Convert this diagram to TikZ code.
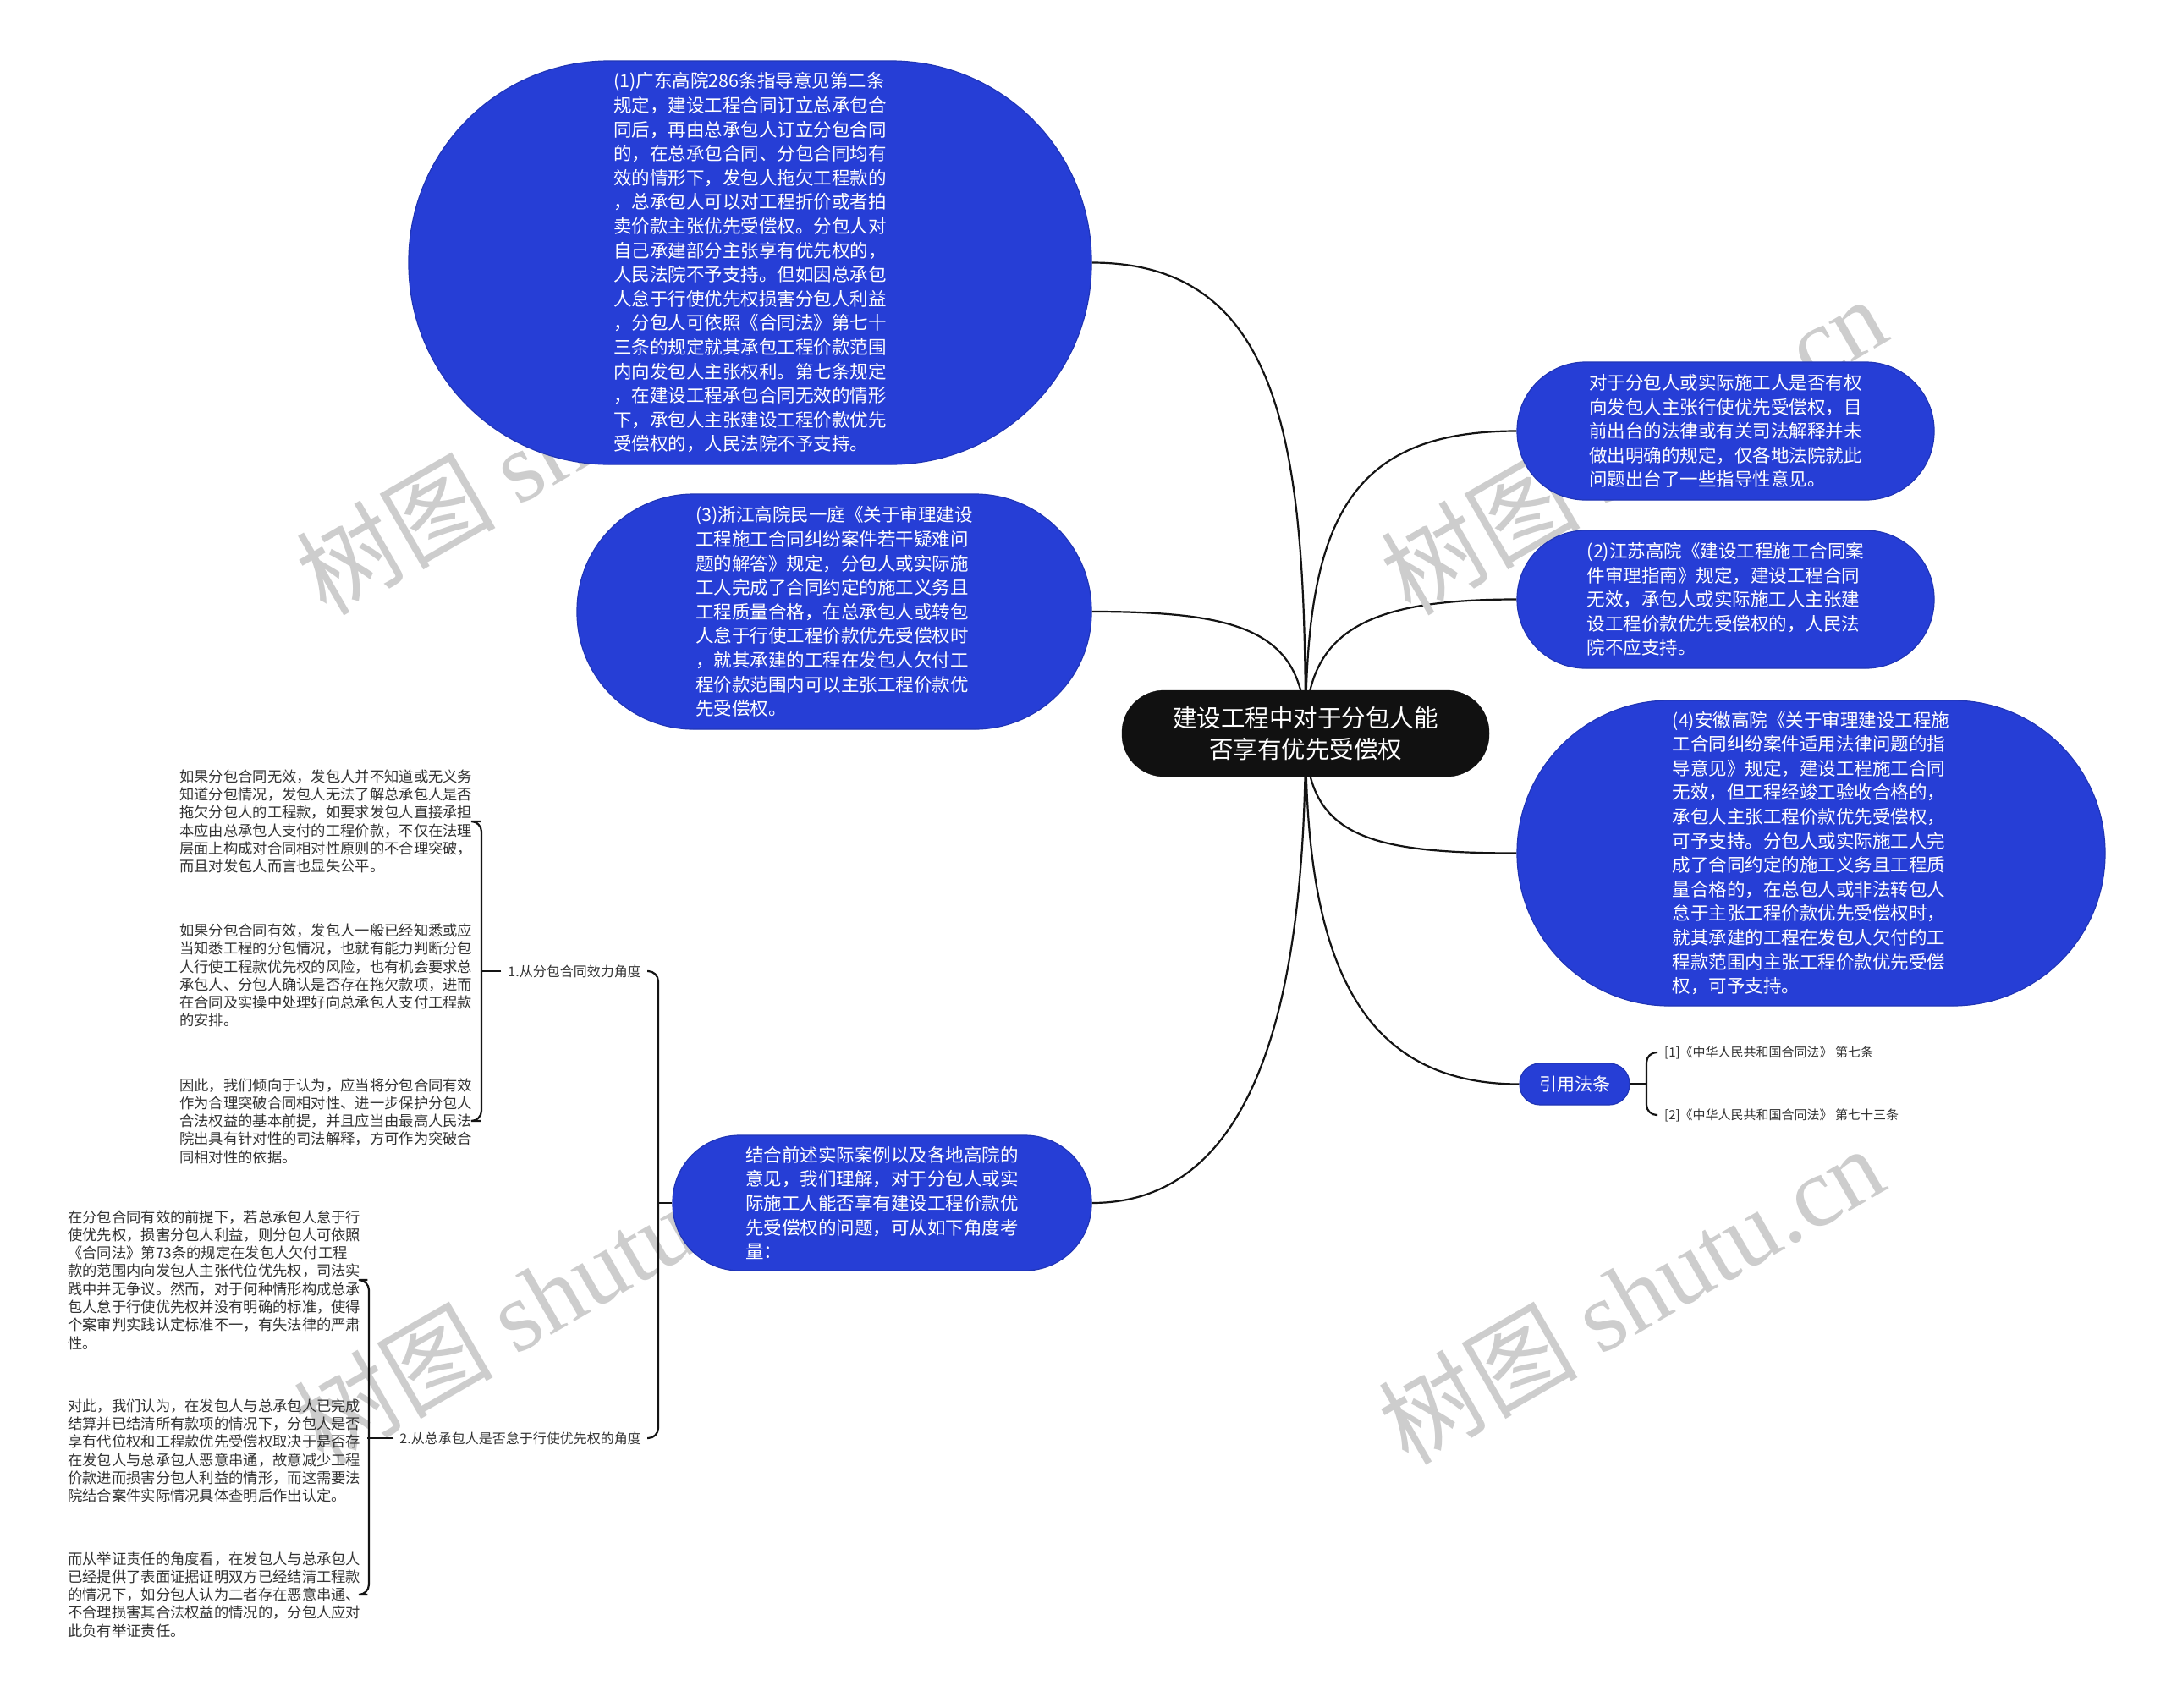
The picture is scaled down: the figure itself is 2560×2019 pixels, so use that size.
\documentclass[tikz,border=0pt]{standalone}
\usepackage{fontspec}
\newfontfamily\cjk{Noto Sans CJK SC}
\newfontfamily\wmserif{Liberation Serif}
\usetikzlibrary{calc}
\pgfdeclarelayer{paper}
\pgfdeclarelayer{links}
\pgfdeclarelayer{wml}
\pgfsetlayers{paper,links,wml,main}
\definecolor{nodeblue}{RGB}{38,62,214}
\definecolor{rootblack}{RGB}{17,17,17}
\definecolor{linkcol}{RGB}{20,20,20}
\definecolor{smalltext}{RGB}{51,51,51}
\definecolor{wmgray}{RGB}{205,205,205}
\tikzset{
  bubble/.style={fill=nodeblue, draw=nodeblue!85!black, line width=1.2pt, text=white,
    font=\cjk\fontsize{21.5}{28.6}\selectfont, align=left, inner sep=0pt},
  rootbox/.style={fill=rootblack, draw=rootblack, text=white,
    font=\cjk\fontsize{28.5}{37}\selectfont, align=center, inner sep=0pt,
    minimum width=434pt, minimum height=102pt, rounded corners=50pt},
  para/.style={font=\cjk\fontsize{17.3}{21.3}\selectfont, text=smalltext, align=left,
    inner sep=0pt, anchor=west},
  lbl/.style={font=\cjk\fontsize{16}{20}\selectfont, text=smalltext, inner sep=0pt},
  reflbl/.style={font=\cjk\fontsize{15}{19}\selectfont, text=smalltext, inner sep=0pt},
  conn/.style={draw=linkcol, line width=2.2pt},
  brk/.style={draw=linkcol, line width=2.2pt, rounded corners=12pt},
  wm/.style={text=wmgray, rotate=30, inner sep=0pt}
}
\begin{document}
\begin{tikzpicture}[x=1pt,y=-1pt]
\begin{pgfonlayer}{paper}
\fill[white] (0,0) rectangle (2560,2019);
\end{pgfonlayer}
\useasboundingbox (0,0) rectangle (2560,2019);

% root
\node[rootbox] (root) at (1543,867) {建设工程中对于分包人能\\否享有优先受偿权};

% main bubbles
\node[bubble, minimum width=807pt, minimum height=477pt, rounded corners=237pt] (n1) at (886.5,310.5)
{(1)广东高院286条指导意见第二条\\
规定，建设工程合同订立总承包合\\
同后，再由总承包人订立分包合同\\
的，在总承包合同、分包合同均有\\
效的情形下，发包人拖欠工程款的\\
，总承包人可以对工程折价或者拍\\
卖价款主张优先受偿权。分包人对\\
自己承建部分主张享有优先权的，\\
人民法院不予支持。但如因总承包\\
人怠于行使优先权损害分包人利益\\
，分包人可依照《合同法》第七十\\
三条的规定就其承包工程价款范围\\
内向发包人主张权利。第七条规定\\
，在建设工程承包合同无效的情形\\
下，承包人主张建设工程价款优先\\
受偿权的，人民法院不予支持。};

\node[bubble, minimum width=608pt, minimum height=278pt, rounded corners=138pt] (n3) at (986,723)
{(3)浙江高院民一庭《关于审理建设\\
工程施工合同纠纷案件若干疑难问\\
题的解答》规定，分包人或实际施\\
工人完成了合同约定的施工义务且\\
工程质量合格，在总承包人或转包\\
人怠于行使工程价款优先受偿权时\\
，就其承建的工程在发包人欠付工\\
程价款范围内可以主张工程价款优\\
先受偿权。};

\node[bubble, minimum width=493pt, minimum height=163pt, rounded corners=81pt] (r1) at (2039.5,509.5)
{对于分包人或实际施工人是否有权\\
向发包人主张行使优先受偿权，目\\
前出台的法律或有关司法解释并未\\
做出明确的规定，仅各地法院就此\\
问题出台了一些指导性意见。};

\node[bubble, minimum width=493pt, minimum height=163pt, rounded corners=81pt] (n2) at (2039.5,708.5)
{(2)江苏高院《建设工程施工合同案\\
件审理指南》规定，建设工程合同\\
无效，承包人或实际施工人主张建\\
设工程价款优先受偿权的，人民法\\
院不应支持。};

\node[bubble, minimum width=695pt, minimum height=361pt, rounded corners=180pt] (n4) at (2140.5,1008.5)
{(4)安徽高院《关于审理建设工程施\\
工合同纠纷案件适用法律问题的指\\
导意见》规定，建设工程施工合同\\
无效，但工程经竣工验收合格的，\\
承包人主张工程价款优先受偿权，\\
可予支持。分包人或实际施工人完\\
成了合同约定的施工义务且工程质\\
量合格的，在总包人或非法转包人\\
怠于主张工程价款优先受偿权时，\\
就其承建的工程在发包人欠付的工\\
程款范围内主张工程价款优先受偿\\
权，可予支持。};

\node[bubble, minimum width=495pt, minimum height=160pt, rounded corners=79pt] (jh) at (1042.5,1422)
{结合前述实际案例以及各地高院的\\
意见，我们理解，对于分包人或实\\
际施工人能否享有建设工程价款优\\
先受偿权的问题，可从如下角度考\\
量：};

\node[bubble, font=\cjk\fontsize{21}{26}\selectfont, minimum width=130pt, minimum height=49pt, rounded corners=24pt] (yf) at (1861,1281.5) {引用法条};

% references
\node[reflbl, anchor=west] (ref1) at (1967,1244) {[1]《中华人民共和国合同法》 第七条};
\node[reflbl, anchor=west] (ref2) at (1967,1318) {[2]《中华人民共和国合同法》 第七十三条};

% labels
\node[lbl, anchor=east] (l1) at (758,1148) {1.从分包合同效力角度};
\node[lbl, anchor=east] (l2) at (758,1700) {2.从总承包人是否怠于行使优先权的角度};

% group 1 paragraphs
\node[para] (p11) at (212,971)
{如果分包合同无效，发包人并不知道或无义务\\
知道分包情况，发包人无法了解总承包人是否\\
拖欠分包人的工程款，如要求发包人直接承担\\
本应由总承包人支付的工程价款，不仅在法理\\
层面上构成对合同相对性原则的不合理突破，\\
而且对发包人而言也显失公平。};
\node[para] (p12) at (212,1153)
{如果分包合同有效，发包人一般已经知悉或应\\
当知悉工程的分包情况，也就有能力判断分包\\
人行使工程款优先权的风险，也有机会要求总\\
承包人、分包人确认是否存在拖欠款项，进而\\
在合同及实操中处理好向总承包人支付工程款\\
的安排。};
\node[para] (p13) at (212,1325)
{因此，我们倾向于认为，应当将分包合同有效\\
作为合理突破合同相对性、进一步保护分包人\\
合法权益的基本前提，并且应当由最高人民法\\
院出具有针对性的司法解释，方可作为突破合\\
同相对性的依据。};

% group 2 paragraphs
\node[para] (p21) at (80,1513)
{在分包合同有效的前提下，若总承包人怠于行\\
使优先权，损害分包人利益，则分包人可依照\\
《合同法》第73条的规定在发包人欠付工程\\
款的范围内向发包人主张代位优先权，司法实\\
践中并无争议。然而，对于何种情形构成总承\\
包人怠于行使优先权并没有明确的标准，使得\\
个案审判实践认定标准不一，有失法律的严肃\\
性。};
\node[para] (p22) at (80,1715)
{对此，我们认为，在发包人与总承包人已完成\\
结算并已结清所有款项的情况下，分包人是否\\
享有代位权和工程款优先受偿权取决于是否存\\
在发包人与总承包人恶意串通，故意减少工程\\
价款进而损害分包人利益的情形，而这需要法\\
院结合案件实际情况具体查明后作出认定。};
\node[para] (p23) at (80,1885)
{而从举证责任的角度看，在发包人与总承包人\\
已经提供了表面证据证明双方已经结清工程款\\
的情况下，如分包人认为二者存在恶意串通、\\
不合理损害其合法权益的情况的，分包人应对\\
此负有举证责任。};

% connectors from root (behind nodes)
\begin{pgfonlayer}{links}
\draw[conn] (n1.east) .. controls ($(n1.east)+(230,0)$) and ($(root.center)+(0,-330)$) .. (root.center);
\draw[conn] (n3.east) .. controls ($(n3.east)+(180,0)$) and ($(root.center)+(0,-120)$) .. (root.center);
\draw[conn] (r1.west) .. controls ($(r1.west)+(-200,0)$) and ($(root.center)+(0,-250)$) .. (root.center);
\draw[conn] (n2.west) .. controls ($(n2.west)+(-180,0)$) and ($(root.center)+(0,-120)$) .. (root.center);
\draw[conn] (n4.west) .. controls ($(n4.west)+(-180,0)$) and ($(root.center)+(0,120)$) .. (root.center);
\draw[conn] (yf.west) .. controls ($(yf.west)+(-200,0)$) and ($(root.center)+(0,250)$) .. (root.center);
\draw[conn] (jh.east) .. controls ($(jh.east)+(200,0)$) and ($(root.center)+(0,300)$) .. (root.center);
\end{pgfonlayer}

% bracket: jh -> labels
\coordinate (bA) at (778,1422);
\draw[conn] (jh.west) -- (bA);
\draw[brk] ($(l1.east)+(7,0)$) -| (bA) |- ($(l2.east)+(7,0)$);

% bracket: l1 -> group 1
\coordinate (b1) at (569,1148);
\draw[conn] ($(l1.west)+(-8,0)$) -- ($(p12.east |- l1.west)+(10,0)$);
\draw[brk] ($(p11.east)+(10,0)$) -| (b1) |- ($(p13.east)+(10,0)$);

% bracket: l2 -> group 2
\coordinate (b2) at (436,1700);
\draw[conn] ($(l2.west)+(-7,0)$) -- ($(p22.east |- l2.west)+(8,0)$);
\draw[brk] ($(p21.east)+(8,0)$) -| (b2) |- ($(p23.east)+(8,0)$);

% bracket: yf -> refs
\coordinate (bR) at (1946,1281.5);
\draw[conn] (yf.east) -- (bR);
\draw[brk] ($(ref1.west)+(-8,0)$) -| (bR) |- ($(ref2.west)+(-8,0)$);

% watermarks (beneath the nodes)
\begin{pgfonlayer}{wml}
\foreach \wx/\wy [count=\i] in {648/526, 1930/526, 645/1530, 1927/1530}{
  \node[wm] (wm\i) at (\wx,\wy) {\cjk\fontsize{118}{118}\selectfont 树图 \wmserif shutu.cn};
}
\end{pgfonlayer}
\end{tikzpicture}
\end{document}
